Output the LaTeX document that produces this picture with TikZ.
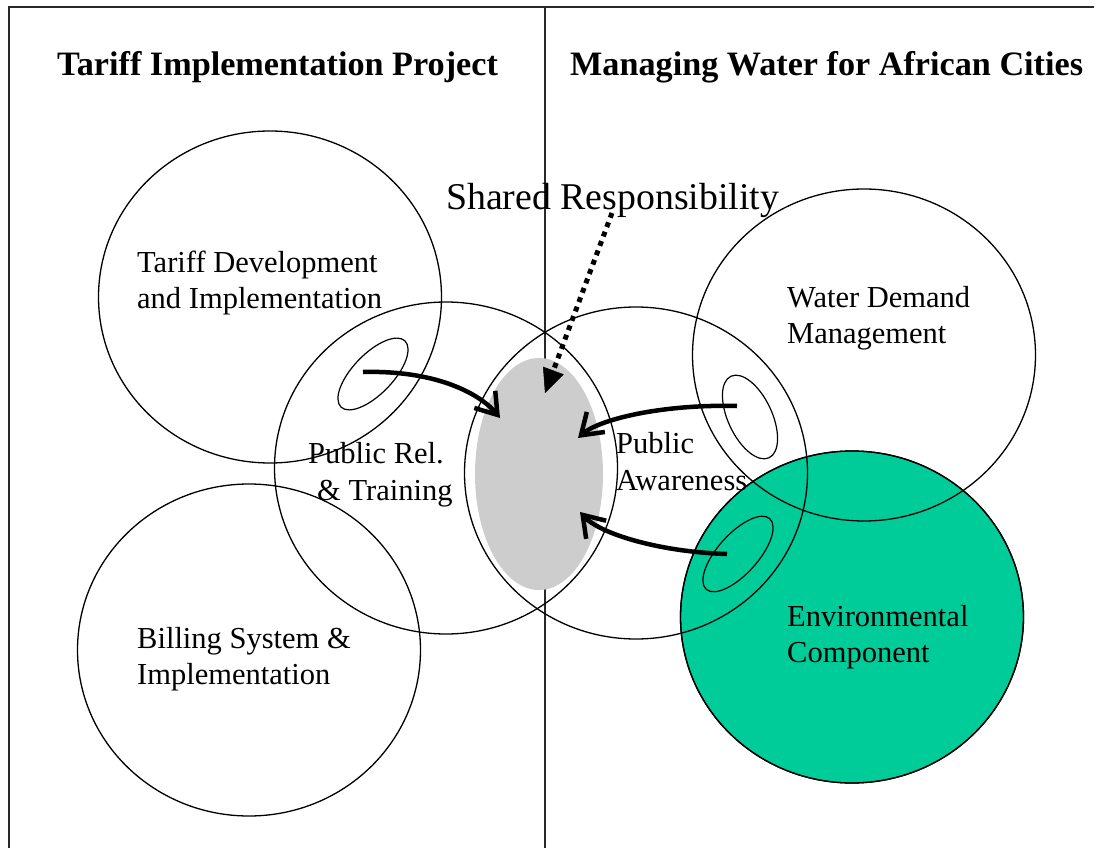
\documentclass[tikz,border=0pt]{standalone}
\usepackage{fontspec}
\setmainfont{Liberation Serif}
\usetikzlibrary{arrows.meta,shapes.geometric}
\definecolor{envgreen}{RGB}{0,204,153}
\definecolor{shadegray}{RGB}{205,205,205}
\definecolor{framecol}{RGB}{40,40,40}
\begin{document}
\begin{tikzpicture}[x=1pt,y=-1pt,
  bigcirc/.style={ellipse, draw=black, line width=1.3pt, minimum width=343pt, minimum height=332pt, inner sep=0pt},
  smallell/.style={ellipse, draw=black, line width=1.2pt, inner sep=0pt},
  lab/.style={anchor=base west, inner sep=0pt, font=\fontsize{30.5}{36}\selectfont},
  titletext/.style={anchor=base west, inner sep=0pt, font=\bfseries\fontsize{34.2}{40}\selectfont},
  flow/.style={line width=4.5pt, -{Straight Barb[length=20pt,width=27pt]}},
  dotflow/.style={line width=5pt, dash pattern=on 5pt off 5pt, -{Triangle[length=24pt,width=22pt,line width=0.5pt]}},
  frameline/.style={draw=framecol, line width=1.6pt}
]
\useasboundingbox (0,0) rectangle (1104,848);
% green circle first
\node[bigcirc, fill=envgreen] (env) at (852,617) {};
% frame
\draw[frameline] (9,848) -- (9,7) -- (1094,7);
\draw[frameline] (545,7) -- (545,848);
% shared area
\node[ellipse, fill=shadegray, draw=none, minimum width=128pt, minimum height=232pt, inner sep=0pt] (shared) at (539,474) {};
% circles
\node[bigcirc] (tariff) at (270,297) {};
\node[bigcirc] (pubrel) at (446,468) {};
\node[bigcirc] (billing) at (249,650) {};
\node[bigcirc] (pubaw) at (636,473) {};
\node[bigcirc] (water) at (864,355) {};
\node[bigcirc, fill=none] (envline) at (852,617) {};
% small ellipses
\node[smallell, minimum width=92pt, minimum height=40pt, rotate=46] (e1) at (373,374) {};
\node[smallell, minimum width=90pt, minimum height=44pt, rotate=-65] (e2) at (750,417) {};
\node[smallell, minimum width=95pt, minimum height=40pt, rotate=48] (e3) at (738,554) {};
% titles
\node[titletext] (t1) at (57,76) {Tariff Implementation Project};
\node[titletext] (t2) at (570,76) {Managing Water for African Cities};
\node[anchor=base west, inner sep=0pt, font=\fontsize{37.8}{44}\selectfont] (sr) at (446,210) {Shared Responsibility};
% labels
\node[lab] (l1a) at (137,272) {Tariff Development};
\node[lab] (l1b) at (137,308) {and Implementation};
\node[lab] (l2a) at (308,463) {Public Rel.};
\node[lab] (l2b) at (317,500) {\& Training};
\node[lab] (l3a) at (137,648) {Billing System \&};
\node[lab] (l3b) at (137,684) {Implementation};
\node[lab] (l4a) at (616,453) {Public};
\node[lab] (l4b) at (616,490) {Awareness};
\node[lab] (l5a) at (787,307) {Water Demand};
\node[lab] (l5b) at (787,343) {Management};
\node[lab] (l6a) at (787,626) {Environmental};
\node[lab] (l6b) at (787,662) {Component};
% arrows
\coordinate (a1s) at (363,372);
\coordinate (a1e) at (500,418);
\coordinate (a2s) at (737,406);
\coordinate (a2e) at (578,438);
\coordinate (a3s) at (727,554);
\coordinate (a3e) at (580,512);
\coordinate (dS) at (612,213);
\coordinate (dE) at (545,393);
\draw[flow] (a1s) .. controls (440,370) and (482,396) .. (a1e);
\draw[flow] (a2s) .. controls (660,404) and (598,420) .. (a2e);
\draw[flow] (a3s) .. controls (660,552) and (600,534) .. (a3e);
\draw[dotflow] (dS) -- (dE);
\end{tikzpicture}
\end{document}
